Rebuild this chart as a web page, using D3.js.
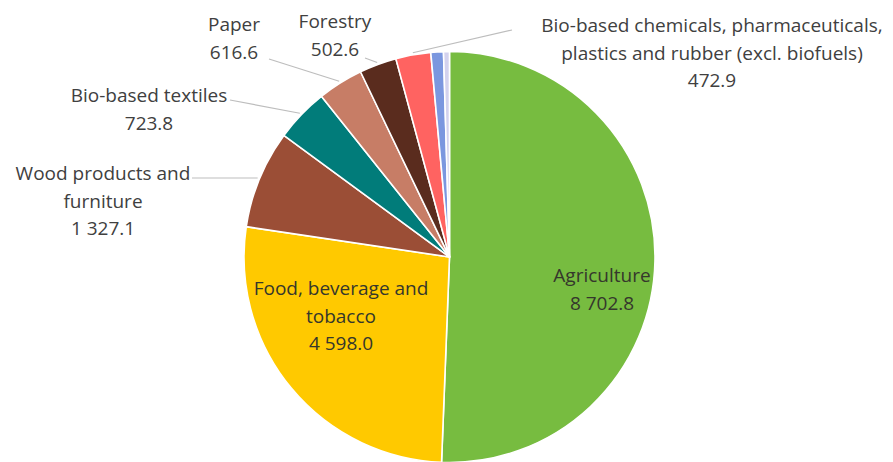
<!DOCTYPE html>
<html>
<head>
<meta charset="utf-8">
<script src="https://cdn.jsdelivr.net/npm/d3@7"></script>
<style>
  html, body { margin: 0; padding: 0; background: #fff; }
  svg { display: block; font-family: "Open Sans", sans-serif; }
</style>
</head>
<body>
<svg id="chart" width="893" height="462"></svg>
<script>
// Employment by bioeconomy sector (thousands)
const sectors = [
  "Agriculture",
  "Food, beverage and tobacco",
  "Wood products and furniture",
  "Bio-based textiles",
  "Paper",
  "Forestry",
  "Bio-based chemicals, pharmaceuticals, plastics and rubber (excl. biofuels)",
  "Fishing and aquaculture",
  "Other"
];
const values = [8702.8, 4598.0, 1327.1, 723.8, 616.6, 502.6, 472.9, 170, 80];
const colors = ["#77bc40", "#ffc900", "#9b4e36", "#017c7a", "#c77d66", "#5a2c1e", "#ff6361", "#7b97df", "#d3d2ee"];

// Label text, split into lines; the value line is formatted from the data
const labelLines = [
  ["Agriculture"],
  ["Food, beverage and", "tobacco"],
  ["Wood products and", "furniture"],
  ["Bio-based textiles"],
  ["Paper"],
  ["Forestry"],
  ["Bio-based chemicals, pharmaceuticals,", "plastics and rubber (excl. biofuels)"],
  null,
  null
];
// Label block placement: centre x, first baseline y, leader line end (or null for inside labels)
const labelLayout = [
  { x: 602, y: 282, leader: null, inside: true },
  { x: 341, y: 295, leader: null, inside: true },
  { x: 103, y: 180, leader: [192, 178] },
  { x: 149, y: 102, leader: [230, 100] },
  { x: 234, y: 31,  leader: [269, 59] },
  { x: 335, y: 28,  leader: [365, 58] },
  { x: 712, y: 32,  leader: [512, 30] }
];

const svg = d3.select("#chart");
const cx = 449.5, cy = 257, r = 205.5;
const lineH = 27.5;

const fmt = v => {
  const s = d3.format(",.1f")(v);
  return s.replace(/,/g, " ");
};

const pie = d3.pie().sort(null).value(d => d)(values);
const arc = d3.arc().innerRadius(0).outerRadius(r);

const g = svg.append("g").attr("transform", `translate(${cx},${cy})`);

g.selectAll("path.slice")
  .data(pie)
  .join("path")
  .attr("class", "slice")
  .attr("d", arc)
  .attr("fill", (d, i) => colors[i])
  .attr("stroke", "#fff")
  .attr("stroke-width", 1.6)
  .attr("stroke-linejoin", "round");

// Leader lines from slice mid-angle on the rim to the label
labelLayout.forEach((L, i) => {
  if (!L.leader) return;
  const a = (pie[i].startAngle + pie[i].endAngle) / 2;
  const px = cx + (r + 2) * Math.sin(a);
  const py = cy - (r + 2) * Math.cos(a);
  svg.append("line")
    .attr("x1", px).attr("y1", py)
    .attr("x2", L.leader[0]).attr("y2", L.leader[1])
    .attr("stroke", "#bdbdbd")
    .attr("stroke-width", 1.2);
});

// Labels
labelLayout.forEach((L, i) => {
  const lines = labelLines[i].concat([fmt(values[i])]);
  const t = svg.append("text")
    .attr("text-anchor", "middle")
    .attr("font-size", 19)
    .attr("fill", L.inside ? "#35372c" : "#404040");
  lines.forEach((s, k) => {
    t.append("tspan")
      .attr("x", L.x)
      .attr("y", L.y + k * lineH)
      .text(s);
  });
});
</script>
</body>
</html>
